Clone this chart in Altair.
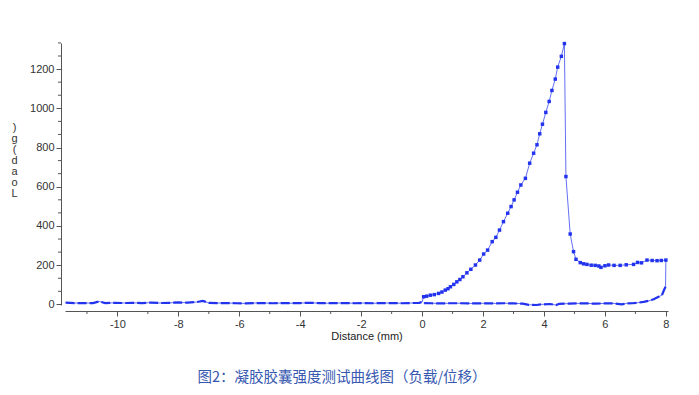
import altair as alt
import pandas as pd

# ---- data ----
base_x = [-11.7, -11.4, -11.1, -10.8, -10.6, -10.4, -10.1, -9.8, -9.5, -9.2, -8.9, -8.6,
          -8.3, -8.0, -7.7, -7.4, -7.2, -7.0, -6.7, -6.4, -6.1, -5.8, -5.5, -5.2, -4.9,
          -4.6, -4.3, -4.0, -3.7, -3.4, -3.1, -2.8, -2.5, -2.2, -1.9, -1.6, -1.3, -1.0,
          -0.7, -0.4, -0.1, 0.0]
base_y = [9, 7, 7, 7, 15, 7, 8, 7, 8, 7, 9, 7,
          8, 10, 9, 12, 18, 8, 7, 7, 6, 5, 7, 7, 6,
          7, 6, 7, 8, 7, 6, 7, 7, 6, 7, 6, 7, 7,
          6, 7, 8, 12]

rise_x = [0.05, 0.15, 0.27, 0.4, 0.54, 0.65, 0.76, 0.85, 0.93, 1.04, 1.14, 1.24, 1.34,
          1.47, 1.60, 1.75, 1.89, 2.02, 2.15, 2.30, 2.42, 2.54, 2.67, 2.81, 2.92, 3.02,
          3.13, 3.24, 3.39, 3.53, 3.66, 3.77, 3.86, 3.95, 4.06, 4.17, 4.26, 4.37, 4.45,
          4.57, 4.67]
rise_y = [39, 42, 47, 50, 56, 63, 73, 80, 90, 102, 115, 127, 141,
          161, 179, 201, 226, 257, 277, 320, 342, 379, 422, 465, 499, 533,
          572, 609, 643, 720, 771, 814, 870, 919, 979, 1035, 1091, 1149, 1210,
          1265, 1330]

drop_x = [4.72, 4.86, 4.97, 5.05, 5.19, 5.3, 5.41, 5.55, 5.68, 5.8, 5.87, 6.0, 6.12,
          6.3, 6.5, 6.7, 6.94, 7.07, 7.2, 7.38, 7.55, 7.71, 7.85, 8.0]
drop_y = [652, 359, 269, 230, 213, 207, 204, 200, 199, 196, 189, 197, 201,
          199, 199, 202, 204, 214, 212, 226, 224, 223, 224, 226]

ret_x = [7.99, 7.95, 7.87, 7.76, 7.6, 7.43, 7.27, 7.1, 6.9, 6.7, 6.55, 6.3, 6.0, 5.7,
         5.4, 5.1, 4.8, 4.5, 4.4, 4.2, 3.9, 3.75, 3.5, 3.3, 3.0, 2.7, 2.4, 2.1, 1.8,
         1.5, 1.2, 0.9, 0.6, 0.3, 0.05]
ret_y = [90, 77, 47, 39, 26, 18, 13, 9, 6, 5, 0, 5, 5, 4,
         5, 5, 4, 3, -3, 2, 0, -3, -2, 4, 5, 6, 5, 6, 5,
         5, 6, 6, 5, 6, 7]

x_ticks = [-10, -8, -6, -4, -2, 0, 2, 4, 6, 8]
x_minor = [-11, -9, -7, -5, -3, -1, 1, 3, 5, 7]
y_ticks = [0, 200, 400, 600, 800, 1000, 1200]
y_minor = [66.7, 133.3, 266.7, 333.3, 466.7, 533.3, 666.7, 733.3, 866.7, 933.3,
           1066.7, 1133.3, 1266.7, 1333.3]

y_title = [")", "g", "(", " ", "d", "a", "o", "L"]
caption = "图2：凝胶胶囊强度测试曲线图（负载/位移）"
x_title = "Distance (mm)"

# ---- build tables ----
xs = base_x + rise_x + drop_x + ret_x
ys = base_y + rise_y + drop_y + ret_y
segs = (["base"] * len(base_x) + ["curve"] * (len(rise_x) + len(drop_x))
        + ["ret"] * len(ret_x))
df = pd.DataFrame({"x": xs, "y": ys, "seg": segs, "o": list(range(len(xs)))})

BLUE = "#2233ee"
XDOM = [-11.72, 8.07]
YDOM = [-3, 1333]
FONT = "Liberation Sans"

xscale = alt.Scale(domain=XDOM, nice=False, zero=False)
yscale = alt.Scale(domain=YDOM, nice=False, zero=False)

base = alt.Chart(df)

line = base.mark_line(color=BLUE, strokeWidth=1, opacity=0.7).encode(
    x=alt.X("x:Q", scale=xscale, axis=alt.Axis(
        values=x_ticks, title=x_title, offset=6, tickSize=5, labelPadding=2,
        titlePadding=1, labelFontSize=11, titleFontSize=11, titleFontWeight="normal",
        labelFont=FONT, titleFont=FONT, labelColor="#333", titleColor="#222",
        domainColor="#555", tickColor="#555", grid=False, labelFlush=False,
        format="d", labelExpr="replace(datum.label, '\u2212', '-')")),
    y=alt.Y("y:Q", scale=yscale, axis=alt.Axis(
        values=y_ticks, title=y_title, offset=4, tickSize=5, labelPadding=2,
        labelFontSize=11, titleFontSize=11, titleFontWeight="normal",
        labelFont=FONT, titleFont=FONT, labelColor="#333", titleColor="#333",
        domainColor="#555", tickColor="#555", grid=False, titleAngle=0,
        titleX=-47, titleY=78, titleAlign="center", titleBaseline="top",
        titleLineHeight=11, format="d")),
    order="o:Q",
)

baseline = alt.Chart(df[df.seg != "curve"]).mark_line(
    color=BLUE, strokeWidth=2.2, strokeDash=[9, 3]).encode(
    x=alt.X("x:Q", scale=xscale),
    y=alt.Y("y:Q", scale=yscale),
    detail="seg:N",
    order="o:Q",
)

points = alt.Chart(df[df.seg == "curve"]).mark_point(
    shape="square", filled=True, size=12, color=BLUE, opacity=1).encode(
    x=alt.X("x:Q", scale=xscale),
    y=alt.Y("y:Q", scale=yscale),
)

xminor = alt.Chart(pd.DataFrame({"v": x_minor})).mark_rule(
    color="#555", strokeWidth=1).encode(
    x=alt.X("v:Q", scale=xscale), y=alt.value(268), y2=alt.value(271))

yminor = alt.Chart(pd.DataFrame({"v": y_minor})).mark_rule(
    color="#555", strokeWidth=1).encode(
    y=alt.Y("v:Q", scale=yscale), x=alt.value(-7), x2=alt.value(-4))

cap = alt.Chart(pd.DataFrame({"t": [caption]})).mark_text(
    font="Noto Sans CJK SC", fontSize=14.5, color="#3658b0",
    align="center", baseline="middle").encode(
    text="t:N", x=alt.value(277), y=alt.value(335))

chart = alt.layer(line, baseline, points, xminor, yminor, cap).properties(
    width=603, height=262,
    autosize=alt.AutoSizeParams(type="none"),
    padding={"left": 57, "top": 35, "right": 20, "bottom": 84},
).configure_view(stroke=None)

chart.save("out.html", embed_options={"renderer": "svg", "actions": False})
